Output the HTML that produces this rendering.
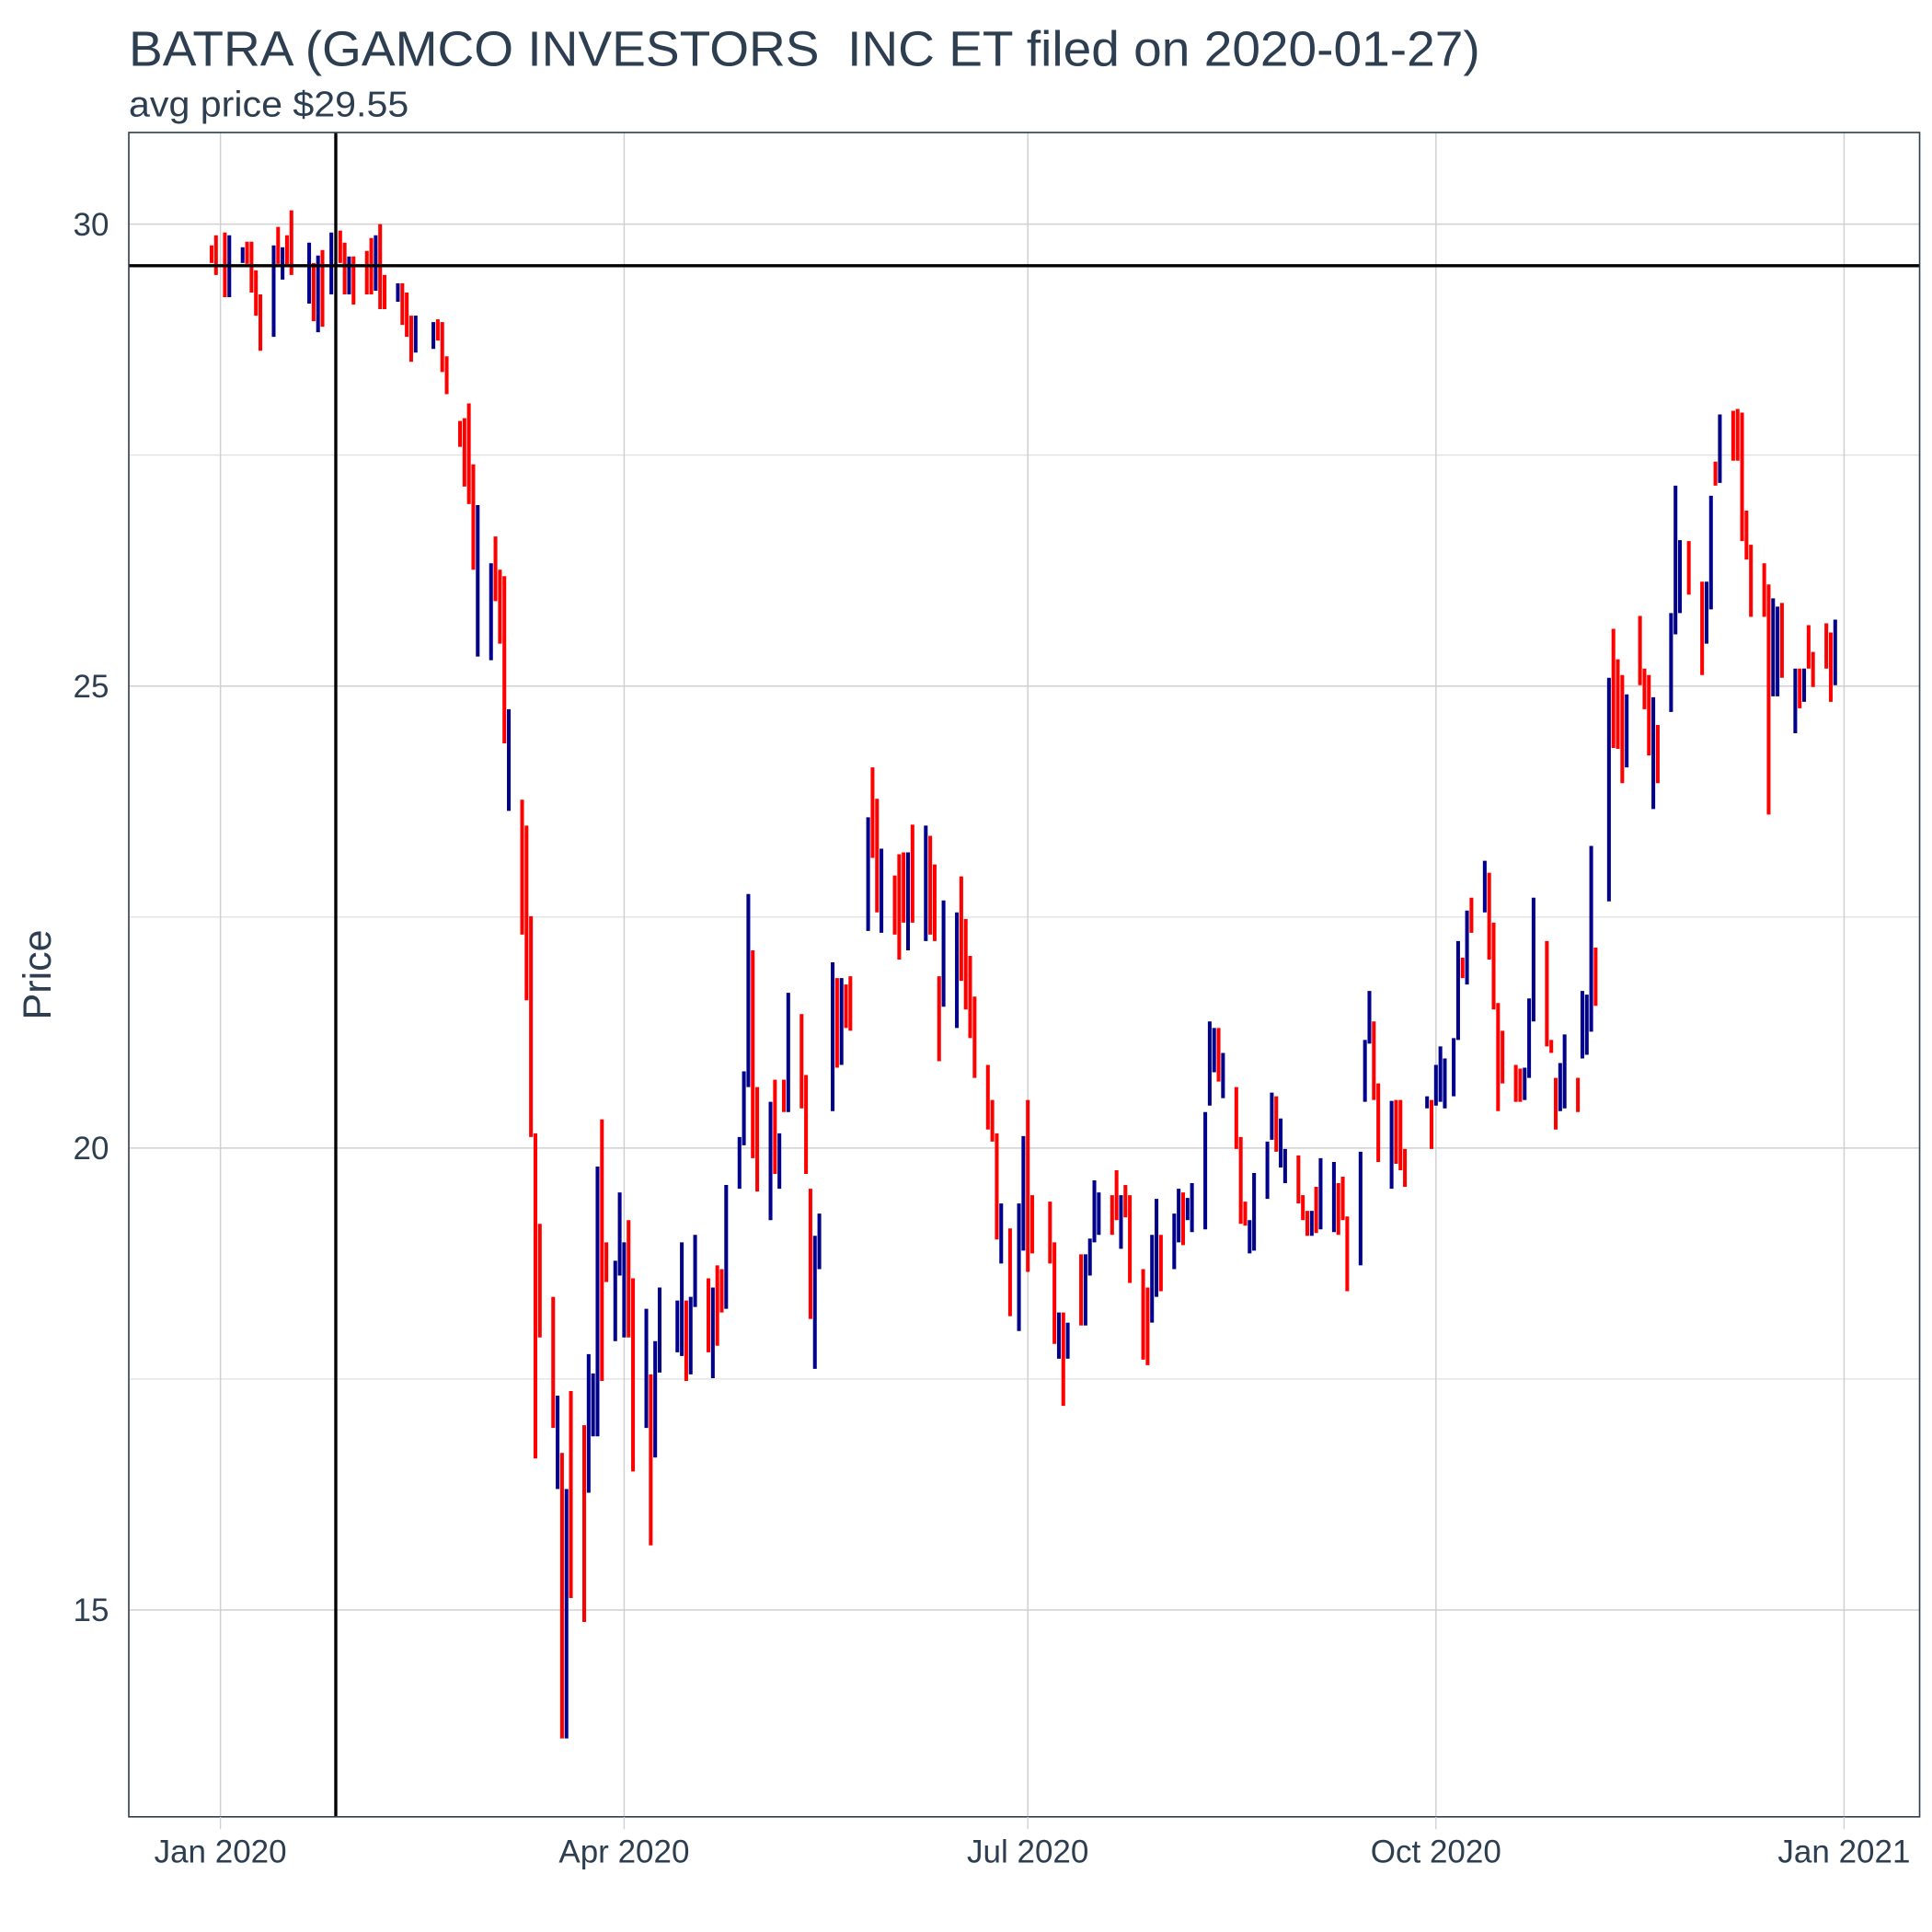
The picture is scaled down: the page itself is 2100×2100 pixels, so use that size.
<!DOCTYPE html>
<html><head><meta charset="utf-8"><style>
html,body{margin:0;padding:0;background:#fff}
svg{display:block;font-family:"Liberation Sans",Arial,sans-serif}
</style></head><body>
<svg id="chart" width="2100" height="2100" viewBox="0 0 1560 1560" xmlns="http://www.w3.org/2000/svg">
<text x="104" y="53" font-size="40" fill="#2c3e50" textLength="1091" lengthAdjust="spacingAndGlyphs" xml:space="preserve">BATRA (GAMCO INVESTORS  INC ET filed on 2020-01-27)</text>
<text x="104" y="94" font-size="29" fill="#2c3e50" textLength="226" lengthAdjust="spacingAndGlyphs">avg price $29.55</text>
<text transform="translate(41,787) rotate(-90)" text-anchor="middle" font-size="32" fill="#2c3e50">Price</text>
<g id="grid"></g>
<g id="bars"></g>
<g id="refs"></g>
<rect x="104" y="107" width="1446" height="1360" fill="none" stroke="#2c3e50" stroke-width="1.2"/>
<g id="axes"></g>
</svg>
<script>
const days=[-2,-1,1,2,5,6,7,8,9,12,13,14,15,16,20,21,22,23,25,27,28,29,30,33,34,35,36,37,40,41,42,43,44,48,49,50,51,54,55,56,57,58,61,62,63,64,65,68,69,70,71,72,75,76,77,78,79,82,83,84,85,86,87,89,90,91,92,93,96,97,98,99,103,104,105,106,107,110,111,112,113,114,117,118,119,120,121,124,125,126,127,128,131,132,133,134,135,138,139,140,141,142,146,147,148,149,152,153,154,155,156,159,160,161,162,163,166,167,168,169,170,173,174,175,176,178,180,181,182,183,187,188,189,190,191,194,195,196,197,198,201,202,203,204,205,208,209,210,211,212,215,216,217,218,219,222,223,224,225,226,229,230,231,232,233,236,237,238,239,240,243,244,245,246,247,248,251,252,253,254,257,258,259,260,261,264,265,266,267,272,273,274,275,276,278,279,280,281,282,285,286,287,288,289,292,293,294,295,296,299,300,301,302,303,306,307,308,309,310,313,314,315,316,317,320,321,322,323,324,327,328,329,331,334,335,336,337,338,341,342,343,344,345,348,349,350,351,352,355,356,357,358,359,362,363,364];
const highs=[29.77,29.88,29.91,29.88,29.75,29.81,29.81,29.50,29.24,29.77,29.97,29.75,29.88,30.15,29.80,29.58,29.66,29.72,29.91,29.93,29.80,29.65,29.65,29.71,29.85,29.88,30.00,29.45,29.36,29.36,29.26,29.01,29.01,28.94,28.97,28.94,28.57,27.87,27.90,28.06,27.40,26.96,26.33,26.62,26.26,26.19,24.75,23.77,23.49,22.51,20.16,19.18,18.39,17.32,16.70,16.31,17.37,17.00,17.77,17.56,19.80,20.31,18.98,18.78,19.52,18.98,19.22,18.59,18.26,17.55,17.91,18.49,18.35,18.98,18.35,18.39,19.06,18.59,18.49,18.73,18.69,19.60,20.12,20.83,22.75,22.14,20.66,20.50,20.74,20.16,20.74,21.68,21.45,20.79,19.56,19.05,19.29,22.01,21.84,21.84,21.77,21.86,23.58,24.12,23.78,23.24,22.95,23.18,23.20,23.20,23.50,23.49,23.38,23.07,21.86,22.68,22.55,22.94,22.48,22.08,21.64,20.90,20.52,20.16,19.40,19.13,19.40,20.13,20.52,19.49,19.42,18.98,18.22,18.22,18.11,18.85,18.85,19.02,19.65,19.52,19.49,19.76,19.49,19.60,19.49,18.69,18.49,19.06,19.45,19.06,19.29,19.56,19.52,19.46,19.62,20.39,21.37,21.30,21.30,21.03,20.66,20.12,19.42,19.22,19.73,20.07,20.60,20.56,20.32,19.99,19.92,19.49,19.32,19.32,19.58,19.89,19.85,19.62,19.69,19.26,19.96,21.17,21.70,21.37,20.70,20.51,20.52,20.52,19.99,20.56,20.52,20.90,21.10,20.97,21.19,22.24,22.06,22.57,22.71,23.11,22.98,22.44,21.57,21.27,20.90,20.86,20.87,21.62,22.71,22.24,21.17,20.76,20.92,21.23,20.76,21.70,21.66,23.27,22.17,25.09,25.62,25.29,25.12,24.91,25.76,25.19,25.12,24.88,24.58,25.79,27.17,26.58,26.57,26.13,26.13,27.06,27.43,27.94,27.98,28.00,27.96,26.90,26.53,26.33,26.10,25.95,25.86,25.90,25.19,25.19,25.19,25.66,25.37,25.68,25.58,25.72];
const lows=[29.58,29.45,29.21,29.21,29.58,29.57,29.26,29.01,28.63,28.78,29.57,29.40,29.54,29.45,29.14,28.95,28.83,28.89,29.24,29.58,29.24,29.24,29.13,29.24,29.24,29.28,29.08,29.08,29.16,28.91,28.78,28.51,28.61,28.65,28.74,28.40,28.16,27.59,27.16,26.97,26.26,25.32,25.28,25.92,25.46,24.38,23.65,22.31,21.60,20.12,16.64,17.95,16.97,16.31,13.61,13.61,15.13,14.87,16.27,16.88,16.88,17.48,18.55,17.91,18.62,17.95,17.95,16.50,16.97,15.70,16.65,17.57,17.79,17.75,17.48,17.55,18.28,17.79,17.51,17.86,18.22,18.26,19.56,20.03,20.66,19.89,19.53,19.22,19.72,19.56,20.39,20.39,20.43,19.72,18.15,17.61,18.69,20.40,20.87,20.90,21.30,21.27,22.35,23.14,22.55,22.33,22.31,22.04,22.44,22.14,22.44,22.24,22.31,22.24,20.94,21.53,21.30,21.81,21.50,21.19,20.76,20.20,20.07,19.01,18.75,18.18,18.02,18.89,18.66,18.86,18.75,17.88,17.72,17.21,17.72,18.08,18.08,18.62,18.98,19.06,19.06,19.22,18.91,19.25,18.54,17.71,17.65,18.11,18.39,18.45,18.69,18.98,18.95,19.22,19.09,19.12,20.46,20.82,20.72,20.54,19.99,19.18,19.16,18.86,18.89,19.45,20.09,19.96,19.79,19.62,19.40,19.22,19.05,19.05,19.08,19.12,19.09,19.06,19.22,18.45,18.73,20.50,21.13,20.52,19.85,19.56,19.83,19.76,19.58,20.43,19.99,20.46,20.50,20.43,20.56,21.17,21.84,21.77,22.33,22.55,22.04,21.50,20.40,20.70,20.50,20.50,20.52,20.76,21.37,21.10,21.03,20.20,20.40,20.43,20.39,20.97,21.01,21.26,21.54,22.67,24.33,24.32,23.95,24.12,25.01,24.75,24.25,23.67,23.95,24.72,25.56,25.79,25.99,25.12,25.46,25.83,27.17,27.20,27.44,27.44,26.57,26.37,25.75,25.75,23.61,24.89,24.89,25.09,24.49,24.76,24.83,25.19,24.99,25.19,24.83,25.01];
const dirs=("ddduuddddu"+"duddududud"+"duddduddud"+"dduudddddd"+"duuddduddd"+
"dddududduu"+"udduuuddud"+"uuuuduudud"+"duuuuddudu"+"duddduuudu"+
"dduddudddu"+"duddduuddd"+"dddduduudd"+"ddududuuuu"+"ddudddduud"+
"uuduuuuudu"+"ddduuuuduu"+"ddduduuddd"+"uuuddudddu"+"duuuuududu"+
"dddddduuud"+"dduuduuudu"+"dddudddudu"+"uudduududd"+"ddddduudud"+"uddddu").split("");
const yTicks=[15,20,25,30];
const yMinor=[17.5,22.5,27.5];
const xTickDays=[0,91,182,274,366];
const xTickLabels=["Jan 2020","Apr 2020","Jul 2020","Oct 2020","Jan 2021"];
const filingDay=26;
const avgPrice=29.55;

const NS="http://www.w3.org/2000/svg";
const X0=104,X1=1550,Y0=107,Y1=1467;
function xs(d){return 178+d*3.582;}
function ys(p){return 181+(30-p)*74.6;}
function mk(tag,attrs,parent){const e=document.createElementNS(NS,tag);for(const k in attrs)e.setAttribute(k,attrs[k]);parent.appendChild(e);return e;}
const grid=document.getElementById('grid'),bars=document.getElementById('bars'),refs=document.getElementById('refs'),axes=document.getElementById('axes');
yMinor.forEach(v=>{const l=mk('line',{x1:X0,x2:X1,y1:ys(v),y2:ys(v),stroke:'#dcdcdc','stroke-width':0.8},grid);

});
yTicks.forEach(v=>{const l=mk('line',{x1:X0,x2:X1,y1:ys(v),y2:ys(v),stroke:'#d0d0d0','stroke-width':1.1},grid);


const t=mk('text',{x:88,y:ys(v)+9,'text-anchor':'end','font-size':26,fill:'#2c3e50'},axes);t.textContent=v;

});
xTickDays.forEach((d,i)=>{const l=mk('line',{x1:xs(d),x2:xs(d),y1:Y0,y2:Y1,stroke:'#d0d0d0','stroke-width':1.1},grid);


const tk=mk('line',{x1:xs(d),x2:xs(d),y1:Y1,y2:Y1+10,stroke:'#d0d0d0','stroke-width':1},axes);


const t=mk('text',{x:xs(d),y:1504,'text-anchor':'middle','font-size':26,fill:'#2c3e50'},axes);t.textContent=xTickLabels[i];

});
days.forEach((d,i)=>{const c=dirs[i]==='u'?'#00008b':'#ff0000';
const l=mk('line',{x1:xs(d),x2:xs(d),y1:ys(highs[i]),y2:ys(lows[i]),stroke:c,'stroke-width':3},bars);

});
const v=mk('line',{x1:xs(filingDay),x2:xs(filingDay),y1:Y0,y2:Y1,stroke:'#000','stroke-width':2.5},refs);


const h=mk('line',{x1:X0,x2:X1,y1:ys(avgPrice),y2:ys(avgPrice),stroke:'#000','stroke-width':2.5},refs);


</script>
</body></html>
